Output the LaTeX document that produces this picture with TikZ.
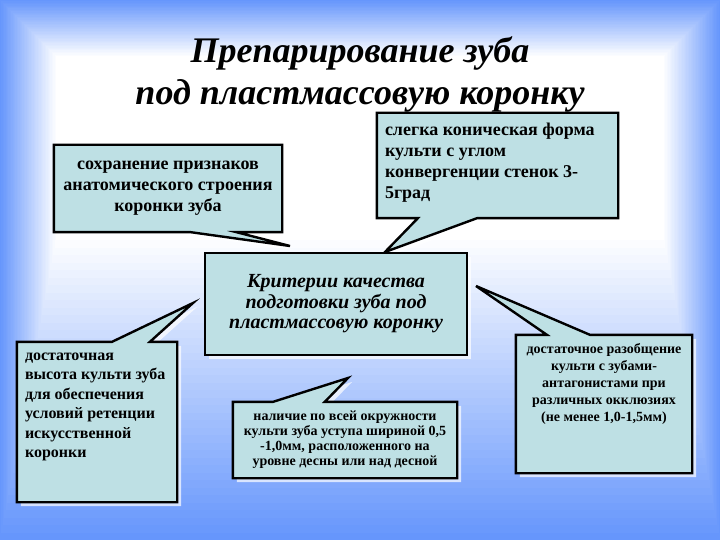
\documentclass[tikz,border=0pt]{standalone}
\usepackage{fontspec}
\setmainfont{Liberation Serif}
\usetikzlibrary{positioning, calc, shadows}
\definecolor{edgeblue}{RGB}{102,150,252}
\definecolor{boxteal}{RGB}{190,224,228}
\pgfdeclarelayer{fade}
\pgfdeclarelayer{boxes}
\pgfsetlayers{fade,boxes,main}
\newcommand{\bodyfont}[2]{\fontsize{#1}{#2}\selectfont\bfseries}

\begin{document}
\begin{tikzpicture}[x=1pt, y=-1pt,
  bubble/.style={draw=black, line width=2.4pt, fill=boxteal, drop shadow={shadow xshift=4pt, shadow yshift=-4pt, fill=white, opacity=0.7}},
  cbox/.style={inner sep=0pt, align=center},
  titletext/.style={align=center, text=black, font=\fontsize{36}{42}\selectfont\bfseries\itshape}
]
\useasboundingbox (0,0) rectangle (720,540);

% background fade
\begin{pgfonlayer}{fade}
  \foreach \i in {0,...,40}{
    \pgfmathsetmacro{\pct}{100-2.5*\i}
    \fill[edgeblue!\pct!white] (1.4*\i,1.4*\i) rectangle (720-1.4*\i,540-7.5*\i);
  }
\end{pgfonlayer}

\node[titletext] (title) at (360,75) {Препарирование зуба\\под пластмассовую коронку};

% callouts
\node[cbox, minimum width=228pt, minimum height=87pt, font=\bodyfont{18}{21}] (keep) at (168,188.5)
  {сохранение признаков\\анатомического строения\\коронки зуба};
\node[cbox, minimum width=241pt, minimum height=105pt] (cone) at (497.5,165.5) {};
\node[cbox, align=left, anchor=north west, font=\bodyfont{18}{21}] (conetxt) at ([shift={(8pt,-10pt)}]cone.north west)
  {слегка коническая форма\\культи с углом\\конвергенции стенок 3-\\5град};
\node[cbox, minimum width=262pt, minimum height=102pt, font=\fontsize{20}{20.5}\selectfont\bfseries\itshape] (crit) at (336,304)
  {Критерии качества\\подготовки зуба под\\пластмассовую коронку};
\node[cbox, minimum width=160pt, minimum height=160pt] (height) at (97,422) {};
\node[cbox, align=left, anchor=north west, font=\bodyfont{16}{19.4}] (heighttxt) at ([shift={(8pt,-11pt)}]height.north west)
  {достаточная\\высота культи зуба\\для обеспечения\\условий ретенции\\искусственной\\коронки};
\node[cbox, minimum width=224pt, minimum height=76pt, font=\bodyfont{14}{15}] (ledge) at (345,440)
  {наличие по всей окружности\\культи зуба уступа шириной 0,5\\-1,0мм, расположенного на\\уровне десны или над десной};
\node[cbox, minimum width=176pt, minimum height=138pt] (gap) at (604,404) {};
\node[cbox, anchor=north, font=\bodyfont{14}{17}] (gaptxt) at ([yshift=-8pt]gap.north)
  {достаточное разобщение\\культи с зубами-\\антагонистами при\\различных окклюзиях\\(не менее 1,0-1,5мм)};

\coordinate (keeptip) at (290,246);
\coordinate (conetip) at (385,252);
\coordinate (heighttip) at (193,303);
\coordinate (ledgetip) at (348,378);
\coordinate (gaptip) at (476,286);

\begin{pgfonlayer}{boxes}
  \draw[bubble] (keep.north west) -- (keep.north east) -- (keep.south east)
    -- ($(keep.south west)!0.8!(keep.south east)$) -- (keeptip)
    -- ($(keep.south west)!0.6!(keep.south east)$) -- (keep.south west) -- cycle;
  \draw[bubble] (cone.north west) -- (cone.north east) -- (cone.south east)
    -- ($(cone.south west)!0.415!(cone.south east)$) -- (conetip)
    -- ($(cone.south west)!0.17!(cone.south east)$) -- (cone.south west) -- cycle;
  \draw[bubble] (crit.north west) rectangle (crit.south east);
  \draw[bubble] (height.north west) -- ($(height.north west)!0.594!(height.north east)$) -- (heighttip)
    -- ($(height.north west)!0.83!(height.north east)$) -- (height.north east)
    -- (height.south east) -- (height.south west) -- cycle;
  \draw[bubble] (ledge.north west) -- ($(ledge.north west)!0.18!(ledge.north east)$) -- (ledgetip)
    -- ($(ledge.north west)!0.41!(ledge.north east)$) -- (ledge.north east)
    -- (ledge.south east) -- (ledge.south west) -- cycle;
  \draw[bubble] (gap.north west) -- ($(gap.north west)!0.176!(gap.north east)$) -- (gaptip)
    -- ($(gap.north west)!0.42!(gap.north east)$) -- (gap.north east)
    -- (gap.south east) -- (gap.south west) -- cycle;
\end{pgfonlayer}
\end{tikzpicture}
\end{document}
